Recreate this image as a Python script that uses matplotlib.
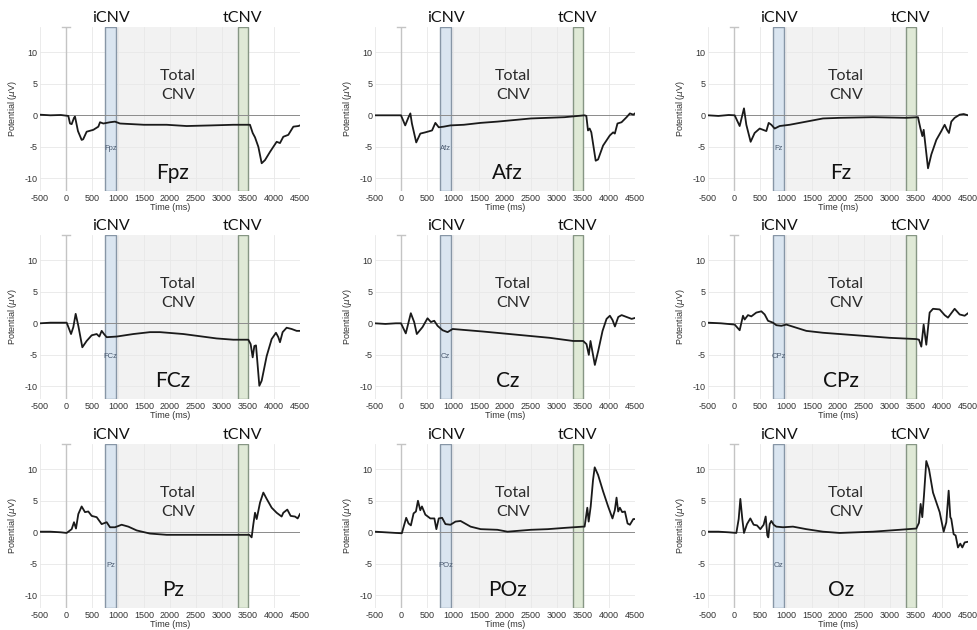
import matplotlib.pyplot as plt

plt.rcParams['axes.unicode_minus'] = False

# -----------------------------
# 1. Channel traces (time in ms, potential in uV)
# -----------------------------
channels = ['Fpz', 'Afz', 'Fz', 'FCz', 'Cz', 'CPz', 'Pz', 'POz', 'Oz']

fpz_t = [-500, -300, -100, 45, 77, 109, 154, 173, 230, 301, 330, 397, 526, 622, 654, 718, 846, 942,
         1038, 1500, 1936, 2321, 2800, 3218, 3538, 3590, 3635, 3699, 3763, 3827, 3923, 4051, 4115,
         4179, 4275, 4372, 4468, 4500]
fpz_v = [0.1, 0.0, 0.05, -0.1, -1.3, -1.4, -0.4, -0.2, -2.5, -3.9, -3.8, -2.6, -2.3, -1.8, -1.1, -1.3,
         -1.1, -1.0, -1.3, -1.5, -1.5, -1.7, -1.6, -1.5, -1.5, -2.8, -3.5, -5.0, -7.6, -7.1, -5.8, -4.2,
         -4.4, -3.4, -3.1, -1.8, -1.7, -1.6]

afz_t = [-500, -200, 0, 81, 145, 180, 210, 293, 371, 468, 597, 661, 726, 822, 951, 1209, 1532, 1854,
         2499, 3144, 3531, 3564, 3596, 3628, 3660, 3744, 3790, 3886, 4015, 4080, 4112, 4163, 4241,
         4338, 4402, 4467, 4500]
afz_v = [0.0, 0.0, 0.0, -1.6, -0.3, 0.3, -1.3, -4.3, -2.9, -2.7, -2.4, -1.2, -1.9, -1.8, -1.6, -1.5,
         -1.2, -1.0, -0.5, -0.3, 0.0, -0.1, -2.4, -2.1, -2.7, -7.2, -7.0, -4.8, -3.2, -2.7, -2.9, -1.3,
         -1.1, -0.3, 0.3, 0.1, 0.3]

fz_t = [-500, -300, -100, 13, 109, 192, 237, 320, 397, 494, 622, 667, 718, 782, 878, 1070, 1391, 1711,
        2032, 2673, 3314, 3538, 3583, 3622, 3648, 3731, 3795, 3891, 3987, 4051, 4096, 4134, 4179, 4243,
        4340, 4417, 4500]
fz_v = [0.0, -0.1, 0.05, 0.0, -1.7, 1.1, -1.5, -4.2, -2.8, -2.1, -2.5, -1.2, -1.5, -2.1, -1.7, -1.5,
        -1.0, -0.5, -0.4, -0.3, -0.4, -0.3, -2.0, -3.3, -2.3, -8.4, -6.2, -3.9, -2.5, -1.5, -2.3, -2.8,
        -1.0, -0.4, 0.1, 0.2, 0.0]

fcz_t = [-500, -300, -100, 13, 97, 141, 186, 237, 314, 397, 494, 590, 641, 686, 731, 782, 974, 1295,
         1615, 1808, 2257, 2897, 3218, 3506, 3551, 3590, 3622, 3654, 3718, 3763, 3859, 3955, 4038,
         4083, 4115, 4166, 4243, 4339, 4436, 4500]
fcz_v = [0.0, 0.1, 0.1, 0.1, -1.7, -0.6, 1.5, -0.4, -3.8, -2.8, -1.9, -1.7, -2.1, -1.2, -1.7, -2.2,
         -2.1, -1.7, -1.4, -1.4, -1.7, -2.4, -2.6, -2.6, -3.3, -5.4, -3.6, -3.5, -9.9, -9.1, -5.2, -2.5,
         -1.5, -2.2, -3.0, -1.4, -0.7, -0.9, -1.2, -1.2]

cz_t = [-500, -300, -100, 0, 92, 189, 253, 304, 414, 510, 575, 639, 703, 800, 896, 993, 1572, 2216,
        2859, 3310, 3503, 3567, 3612, 3644, 3728, 3792, 3876, 3953, 4017, 4069, 4114, 4178, 4243, 4339,
        4436, 4500]
cz_v = [0.0, -0.1, 0.0, 0.0, -1.6, 1.6, 0.2, -1.7, -0.6, 0.8, 0.2, 0.4, -0.4, -1.1, -1.4, -0.9, -1.3,
        -1.8, -2.3, -2.8, -2.8, -3.3, -5.0, -2.8, -6.6, -4.4, -1.2, 0.7, 1.2, 0.5, -0.5, 1.0, 1.3, 1.0,
        0.7, 0.85]

cpz_t = [-500, -250, 13, 109, 173, 205, 269, 333, 429, 526, 590, 654, 750, 814, 910, 1006, 1391, 1711,
         2352, 2993, 3506, 3557, 3602, 3647, 3698, 3762, 3827, 3955, 4051, 4115, 4243, 4340, 4436, 4500]
cpz_v = [0.1, 0.0, -0.2, -1.1, 1.2, 0.6, 1.3, 1.1, 1.7, 1.9, 1.4, 0.4, 0.1, -0.3, -0.4, -0.2, -1.2,
         -1.5, -1.9, -2.3, -2.5, -2.6, -3.7, -0.2, -3.4, 1.7, 2.3, 2.2, 1.3, 0.9, 2.3, 1.4, 1.2, 1.6]

pz_t = [-500, -300, -100, 13, 109, 154, 192, 237, 301, 365, 429, 494, 590, 686, 782, 846, 942, 1070,
        1199, 1359, 1615, 1936, 2577, 3218, 3526, 3570, 3603, 3635, 3667, 3731, 3795, 3859, 3955, 4051,
        4147, 4179, 4256, 4320, 4404, 4455, 4500]
pz_v = [0.1, 0.1, 0.0, -0.1, 0.5, 1.6, 0.6, 2.9, 4.1, 3.2, 3.3, 2.6, 2.4, 1.3, 1.6, 0.8, 0.8, 1.2, 0.9,
        0.3, -0.2, -0.4, -0.4, -0.4, -0.4, -0.8, 1.3, 3.1, 2.1, 4.7, 6.3, 5.3, 3.9, 3.1, 2.5, 3.1, 3.6,
        2.6, 2.5, 2.2, 2.9]

poz_t = [-500, -300, -100, 16, 100, 145, 190, 242, 287, 326, 371, 403, 468, 564, 642, 680, 726, 790,
         855, 951, 1048, 1145, 1338, 1532, 1854, 2048, 2499, 2822, 3144, 3499, 3531, 3583, 3609, 3648,
         3693, 3725, 3790, 3886, 3983, 4067, 4112, 4145, 4177, 4209, 4254, 4306, 4357, 4402, 4467, 4500]
poz_v = [0.1, 0.0, -0.1, -0.15, 2.3, 1.4, 1.1, 3.0, 3.3, 5.0, 3.5, 4.1, 2.8, 2.2, 2.2, 0.5, 2.2, 2.3,
         1.3, 1.2, 1.7, 1.8, 0.9, 0.5, 0.4, 0.1, 0.4, 0.5, 0.7, 0.9, 0.9, 3.9, 1.7, 4.1, 8.3, 10.3, 9.1,
         6.5, 4.1, 2.2, 3.5, 5.5, 3.3, 3.9, 3.2, 3.3, 1.4, 1.2, 2.1, 2.1]

oz_t = [-500, -300, -100, 45, 90, 122, 160, 192, 250, 314, 378, 442, 506, 570, 609, 641, 660, 686, 718,
        763, 814, 942, 1134, 1391, 1711, 2032, 2673, 3186, 3506, 3557, 3589, 3621, 3653, 3698, 3750,
        3827, 3955, 4032, 4083, 4128, 4160, 4179, 4224, 4262, 4307, 4352, 4391, 4436, 4500]
oz_v = [0.1, 0.1, 0.0, -0.1, 2.1, 5.3, 2.1, -0.1, 1.3, 2.2, 1.2, 1.1, 0.5, 1.2, 2.5, -0.5, -0.8, 1.3,
        1.8, 1.2, 0.9, 0.8, 0.9, 0.5, 0.1, -0.1, 0.1, 0.4, 0.6, 1.5, 4.5, 2.4, 5.8, 11.3, 10.0, 6.3, 3.2,
        0.1, 1.6, 6.6, 2.4, 2.1, -0.3, -0.5, -2.4, -1.8, -2.4, -1.6, -1.5]

traces = [(fpz_t, fpz_v), (afz_t, afz_v), (fz_t, fz_v),
          (fcz_t, fcz_v), (cz_t, cz_v), (cpz_t, cpz_v),
          (pz_t, pz_v), (poz_t, poz_v), (oz_t, oz_v)]

# windows (ms)
icnv_win = (750, 970)
tcnv_win = (3300, 3500)
total_win = (750, 3500)

xticks = [-500, 0, 500, 1000, 1500, 2000, 2500, 3000, 3500, 4000, 4500]
yticks = [-10, -5, 0, 5, 10]

# -----------------------------
# 2. Layout
# -----------------------------
fig = plt.figure(figsize=(9.77, 6.3), dpi=100)

lefts = [40 / 977, 375 / 977, 708 / 977]
bottoms = [1 - 191 / 630, 1 - 399 / 630, 1 - 608 / 630]
w, h = 260 / 977, 164 / 630

label_font = 'Lato'
tick_font = 'Liberation Sans'
tick_size = 6.5

for i, name in enumerate(channels):
    row, col = divmod(i, 3)
    ax = fig.add_axes([lefts[col], bottoms[row], w, h])
    t, v = traces[i]

    ax.set_xlim(-500, 4500)
    ax.set_ylim(-12, 14)
    ax.set_axisbelow(True)

    ax.axvspan(*total_win, color='#f2f2f2', zorder=0, lw=0)
    ax.grid(True, color='#e8e8e8', lw=0.6)
    ax.axvspan(*icnv_win, facecolor='#dae5f0', edgecolor='#8796a6', lw=1.0, zorder=1)
    ax.axvspan(*tcnv_win, facecolor='#dfe9d6', edgecolor='#869684', lw=1.0, zorder=1)

    ax.axhline(0, color='#8c8c8c', lw=0.7, zorder=2)
    ax.axvline(0, color='#c4c4c4', lw=1.0, zorder=2)
    ax.plot([-70, 70], [14, 14], color='#c4c4c4', lw=1.0, clip_on=False, zorder=2)

    ax.plot(t, v, color='#1a1a1a', lw=1.3, zorder=3)

    for s in ax.spines.values():
        s.set_visible(False)
    ax.set_xticks(xticks)
    ax.set_yticks(yticks)
    ax.tick_params(length=0, pad=2, labelsize=tick_size, labelcolor='#333333')
    for lab in ax.get_xticklabels() + ax.get_yticklabels():
        lab.set_fontfamily(tick_font)
    ax.set_xlabel('Time (ms)', fontsize=tick_size, family=tick_font, color='#333333', labelpad=0)
    ax.set_ylabel('Potential ($\\mu$V)', fontsize=tick_size, family=tick_font, color='#333333',
                  labelpad=4)

    # annotations
    ax.text(sum(icnv_win) / 2, 1.01, 'iCNV', transform=ax.get_xaxis_transform(),
            ha='center', va='bottom', fontsize=11.5, family=label_font, color='#111111')
    ax.text(sum(tcnv_win) / 2, 1.01, 'tCNV', transform=ax.get_xaxis_transform(),
            ha='center', va='bottom', fontsize=11.5, family=label_font, color='#111111')
    ax.text(2150, 4.8, 'Total\nCNV', ha='center', va='center', fontsize=11.5,
            family=label_font, color='#2a2a2a', linespacing=1.45)
    ax.text(2050, -9.1, name, ha='center', va='center', fontsize=15,
            family=label_font, color='#111111')
    ax.text(860, -5.3, name, ha='center', va='center', fontsize=5.5,
            family=tick_font, color='#4a5a70')

fig.savefig('out.png', dpi=100)
